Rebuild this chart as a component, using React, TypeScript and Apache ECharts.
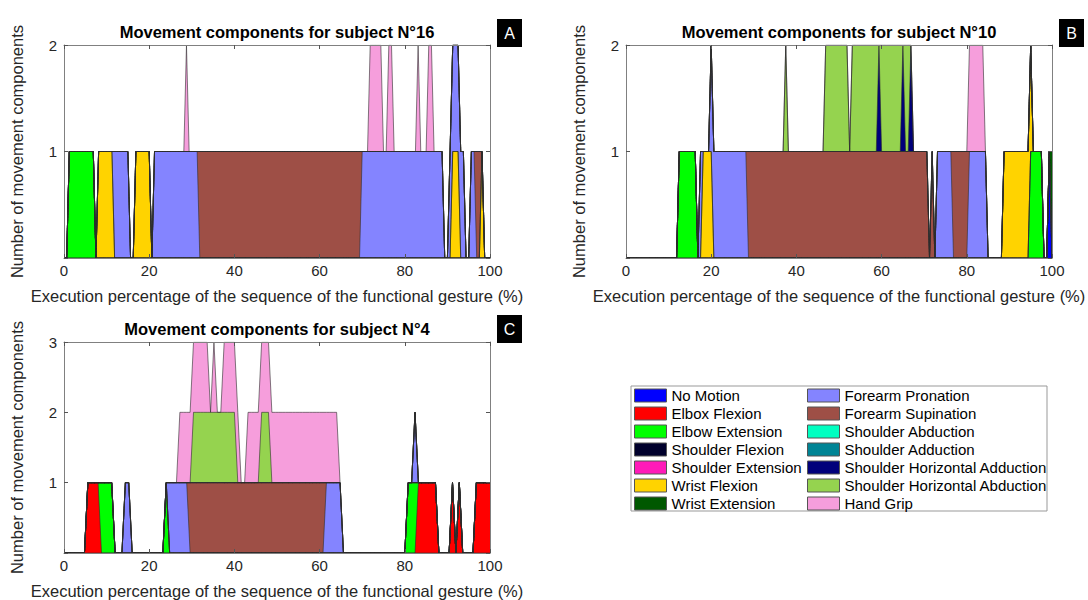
import React, { useEffect, useRef } from "react";
import * as echarts from "echarts";

const FONT = '"Liberation Sans", Arial, Helvetica, sans-serif';

// ---- movement components (stack order) and their colours ----
const COMPONENTS = [
  "No Motion",
  "Elbox Flexion",
  "Elbow Extension",
  "Shoulder Flexion",
  "Shoulder Extension",
  "Wrist Flexion",
  "Wrist Extension",
  "Forearm Pronation",
  "Forearm Supination",
  "Shoulder Abduction",
  "Shoulder Adduction",
  "Shoulder Horizontal Adduction",
  "Shoulder Horizontal Abduction",
  "Hand Grip",
];
const COMPONENT_COLORS = [
  "#0000FF", "#FF0000", "#00FF00", "#00002C", "#FF1AB9", "#FFD300", "#005800",
  "#8484FF", "#9E4F46", "#00FFC1", "#008495", "#00007B", "#95D34F", "#F69EDC",
];

const X_MIN = 0;
const X_MAX = 100;
const X_INTERVAL = 20;
const X_AXIS_NAME = "Execution percentage of the sequence of the functional gesture (%)";
const Y_AXIS_NAME = "Number of movement components";

// ---- Subject N°16 (A): sampling step and active intervals [start %, end %] ----
const A_STEP = 0.625;
const A_ELBOW_EXTENSION = [[1.25, 6.9]];
const A_WRIST_FLEXION = [[8.4, 11.2], [17.1, 19.8], [91.2, 92.5], [98.1, 98.1]];
const A_FOREARM_PRONATION = [[11.8, 14.7], [21.2, 31.1], [69.7, 89.0], [90.6, 93.6], [95.9, 96.3]];
const A_FOREARM_SUPINATION = [[31.8, 69.1], [96.9, 97.5]];
const A_HAND_GRIP = [[29.0, 29.0], [72.1, 74.6], [76.2, 76.9], [83.4, 83.4], [85.6, 86.1]];

// ---- Subject N°10 (B) ----
const B_STEP = 0.625;
const B_NO_MOTION = [[99.4, 99.4]];
const B_ELBOW_EXTENSION = [[12.6, 16.0], [94.7, 97.6]];
const B_WRIST_FLEXION = [[18.2, 20.0], [89.0, 94.7]];
const B_WRIST_EXTENSION = [[100, 100]];
const B_FOREARM_PRONATION = [[17.6, 17.6], [20.0, 28.2], [73.2, 76.1], [80.4, 84.5]];
const B_FOREARM_SUPINATION = [[28.8, 70.4], [72.0, 72.0], [76.8, 79.8]];
const B_SH_HORIZ_ADDUCTION = [[59.1, 59.1], [65.0, 65.0], [66.9, 66.9]];
const B_SH_HORIZ_ABDUCTION = [[37.5, 37.5], [46.9, 51.6], [53.1, 58.6], [59.7, 64.4], [65.6, 66.3]];
const B_HAND_GRIP = [[80.4, 83.9]];

// ---- Subject N°4 (C) ----
const C_STEP = 0.8;
const C_ELBOX_FLEXION = [[5.6, 8.0], [83.2, 87.2], [91.2, 91.2], [92.8, 92.8], [96.8, 100]];
const C_ELBOW_EXTENSION = [[8.8, 11.2], [24.0, 24.0], [80.8, 82.4]];
const C_FOREARM_PRONATION = [[14.4, 15.2], [24.8, 28.8], [61.6, 64.8], [82.4, 82.4]];
const C_FOREARM_SUPINATION = [[29.6, 60.8]];
const C_SH_HORIZ_ABDUCTION = [[30.4, 40.0], [46.4, 48.0]];
const C_HAND_GRIP = [[27.2, 33.6], [35.2, 35.2], [37.6, 40.8], [43.2, 64.0]];

const PANELS = [
  {
    title: "Movement components for subject N°16",
    letter: "A",
    yMax: 2,
    step: A_STEP,
    active: {
      "Elbow Extension": A_ELBOW_EXTENSION,
      "Wrist Flexion": A_WRIST_FLEXION,
      "Forearm Pronation": A_FOREARM_PRONATION,
      "Forearm Supination": A_FOREARM_SUPINATION,
      "Hand Grip": A_HAND_GRIP,
    } as Record<string, number[][]>,
  },
  {
    title: "Movement components for subject N°10",
    letter: "B",
    yMax: 2,
    step: B_STEP,
    active: {
      "No Motion": B_NO_MOTION,
      "Elbow Extension": B_ELBOW_EXTENSION,
      "Wrist Flexion": B_WRIST_FLEXION,
      "Wrist Extension": B_WRIST_EXTENSION,
      "Forearm Pronation": B_FOREARM_PRONATION,
      "Forearm Supination": B_FOREARM_SUPINATION,
      "Shoulder Horizontal Adduction": B_SH_HORIZ_ADDUCTION,
      "Shoulder Horizontal Abduction": B_SH_HORIZ_ABDUCTION,
      "Hand Grip": B_HAND_GRIP,
    } as Record<string, number[][]>,
  },
  {
    title: "Movement components for subject N°4",
    letter: "C",
    yMax: 3,
    step: C_STEP,
    active: {
      "Elbox Flexion": C_ELBOX_FLEXION,
      "Elbow Extension": C_ELBOW_EXTENSION,
      "Forearm Pronation": C_FOREARM_PRONATION,
      "Forearm Supination": C_FOREARM_SUPINATION,
      "Shoulder Horizontal Abduction": C_SH_HORIZ_ABDUCTION,
      "Hand Grip": C_HAND_GRIP,
    } as Record<string, number[][]>,
  },
];

// ---- layout ----
const GRIDS = [
  { left: 64, top: 45, width: 426, height: 213 },
  { left: 626, top: 45, width: 426, height: 213 },
  { left: 64, top: 342, width: 426, height: 211 },
];
const LETTER_BOXES = [
  { x: 497, y: 19 },
  { x: 1059, y: 19 },
  { x: 497, y: 315 },
];
const AXIS_COLOR = "#808080";
const TEXT_COLOR = "#262626";
const EDGE_COLOR = "#2e2e2e";

function panelSeries(panel: any, g: number) {
  const step = panel.step;
  const n = Math.round((X_MAX - X_MIN) / step);
  const xs: number[] = [];
  for (let i = 0; i <= n; i++) xs.push(Math.round((X_MIN + i * step) * 10000) / 10000);
  const counts = COMPONENTS.map((name) => {
    const v = new Array(n + 1).fill(0);
    (panel.active[name] || []).forEach(([s, e]: number[]) => {
      const a = Math.round((s - X_MIN) / step);
      const b = Math.round((e - X_MIN) / step);
      for (let i = a; i <= b; i++) v[i] = 1;
    });
    return v;
  });
  // cumulative (stacked) counts
  const stacked: number[][] = [];
  let run = new Array(n + 1).fill(0);
  counts.forEach((v) => {
    run = run.map((r, i) => r + v[i]);
    stacked.push(run);
  });
  const out: any[] = [];
  for (let k = COMPONENTS.length - 1; k >= 0; k--) {
    out.push({
      type: "line",
      name: COMPONENTS[k],
      xAxisIndex: 2 * g,
      yAxisIndex: 2 * g,
      data: xs.map((x, i) => [x, stacked[k][i]]),
      symbol: "none",
      showSymbol: false,
      silent: true,
      color: COMPONENT_COLORS[k],
      lineStyle: { color: EDGE_COLOR, width: 0.6 },
      areaStyle: { color: COMPONENT_COLORS[k], opacity: 1 },
      emphasis: { disabled: true },
      z: 2,
    });
  }
  return out;
}

function buildOption() {
  const xAxis: any[] = [];
  const yAxis: any[] = [];
  const series: any[] = [];
  const graphic: any[] = [];
  PANELS.forEach((panel, g) => {
    const tickStyle = { inside: true, length: 4, lineStyle: { color: "#555", width: 1 } };
    const lineStyle = { show: true, onZero: false, lineStyle: { color: AXIS_COLOR, width: 1 } };
    xAxis.push({
      gridIndex: g,
      type: "value",
      min: X_MIN,
      max: X_MAX,
      interval: X_INTERVAL,
      position: "bottom",
      z: 5,
      axisLine: lineStyle,
      axisTick: tickStyle,
      splitLine: { show: false },
      axisLabel: { fontSize: 15, color: TEXT_COLOR, fontFamily: FONT, margin: 5 },
      name: X_AXIS_NAME,
      nameLocation: "middle",
      nameGap: 29,
      nameTextStyle: { fontSize: 16.5, color: TEXT_COLOR, fontFamily: FONT },
    });
    xAxis.push({
      gridIndex: g,
      type: "value",
      min: X_MIN,
      max: X_MAX,
      interval: X_INTERVAL,
      position: "top",
      z: 5,
      axisLine: lineStyle,
      axisTick: tickStyle,
      splitLine: { show: false },
      axisLabel: { show: false },
    });
    yAxis.push({
      gridIndex: g,
      type: "value",
      min: 0,
      max: panel.yMax,
      interval: 1,
      position: "left",
      z: 5,
      axisLine: lineStyle,
      axisTick: tickStyle,
      splitLine: { show: false },
      axisLabel: {
        fontSize: 15,
        color: TEXT_COLOR,
        fontFamily: FONT,
        margin: 7,
        formatter: (v: number) => (v === 0 ? "" : String(v)),
      },
      name: Y_AXIS_NAME,
      nameLocation: "middle",
      nameGap: 39,
      nameRotate: 90,
      nameTextStyle: { fontSize: 16.5, color: TEXT_COLOR, fontFamily: FONT },
    });
    yAxis.push({
      gridIndex: g,
      type: "value",
      min: 0,
      max: panel.yMax,
      interval: 1,
      position: "right",
      z: 5,
      axisLine: lineStyle,
      axisTick: tickStyle,
      splitLine: { show: false },
      axisLabel: { show: false },
    });
    series.push(...panelSeries(panel, g));

    const gr = GRIDS[g];
    graphic.push({
      type: "text",
      x: gr.left + gr.width / 2,
      y: gr.top - 13,
      z: 10,
      style: {
        text: panel.title,
        fontSize: 16.5,
        fontWeight: "bold",
        fontFamily: FONT,
        fill: "#000",
        align: "center",
        verticalAlign: "middle",
      },
    });
    const lb = LETTER_BOXES[g];
    graphic.push({
      type: "rect",
      x: lb.x,
      y: lb.y,
      z: 10,
      shape: { width: 25, height: 28 },
      style: { fill: "#000" },
    });
    graphic.push({
      type: "text",
      x: lb.x + 12.5,
      y: lb.y + 14,
      z: 11,
      style: {
        text: panel.letter,
        fontSize: 16,
        fontFamily: FONT,
        fill: "#fff",
        align: "center",
        verticalAlign: "middle",
      },
    });
  });

  // legend border
  graphic.push({
    type: "rect",
    x: 631,
    y: 386,
    z: 1,
    shape: { width: 416, height: 125 },
    style: { fill: "#fff", stroke: "#999", lineWidth: 1 },
  });

  const legendItem = (k: number) => ({
    name: COMPONENTS[k],
    icon: "rect",
    itemStyle: { color: COMPONENT_COLORS[k], borderColor: "#555", borderWidth: 1 },
  });
  const legendCommon = {
    orient: "vertical",
    top: 388,
    padding: 0,
    itemWidth: 32,
    itemHeight: 13,
    itemGap: 3,
    selectedMode: false,
    z: 5,
    textStyle: { fontSize: 15, color: "#000", fontFamily: FONT },
  };
  const legend = [
    { ...legendCommon, left: 634, data: [0, 1, 2, 3, 4, 5, 6].map(legendItem) },
    { ...legendCommon, left: 807, data: [7, 8, 9, 10, 11, 12, 13].map(legendItem) },
  ];

  return {
    animation: false,
    backgroundColor: "#fff",
    textStyle: { fontFamily: FONT },
    grid: GRIDS.map((gr) => ({ ...gr, containLabel: false })),
    xAxis,
    yAxis,
    series,
    legend,
    graphic,
  };
}

export default function App() {
  const ref = useRef<HTMLDivElement>(null);
  useEffect(() => {
    document.body.style.margin = "0";
    if (!ref.current) return;
    const chart = echarts.init(ref.current, undefined, { renderer: "svg" });
    chart.setOption(buildOption() as any);
    return () => chart.dispose();
  }, []);
  return <div ref={ref} style={{ width: 1088, height: 600 }} />;
}
